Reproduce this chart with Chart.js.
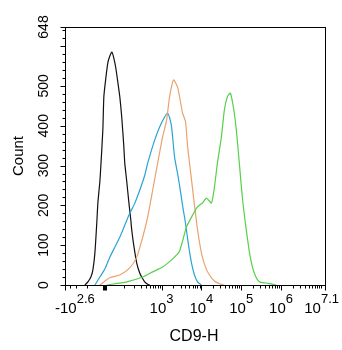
<!DOCTYPE html>
<html>
<head>
<meta charset="utf-8">
<script src="https://cdn.jsdelivr.net/npm/chart.js@4.4.1/dist/chart.umd.min.js"></script>
<style>
  html, body { margin: 0; padding: 0; background: #fff; }
  #wrap { width: 342px; height: 350px; }
</style>
</head>
<body>
<div id="wrap"><canvas id="histChart"></canvas></div>
<script>
// Histogram bins are display channels (0..261 across the logicle axis)
const controlX = [20, 23, 26, 28, 30, 32, 33, 35, 36, 38, 39, 41, 43, 45, 47, 49, 51, 53, 55, 57, 59, 60, 62, 64, 66, 67, 69, 72, 75, 77, 80, 83, 85];
const controlY = [0, 8, 20, 38, 80, 160, 206, 260, 300, 390, 473, 520, 558, 575, 585, 570, 545, 510, 473, 420, 350, 306, 260, 210, 165, 138, 100, 55, 30, 20, 8, 2, 0];

const blueX = [30, 35, 40, 45, 50, 55, 60, 65, 70, 75, 80, 83, 87, 90, 95, 100, 103, 105, 107, 110, 113, 115, 118, 121, 124, 127, 130, 133, 137];
const blueY = [0, 20, 40, 70, 95, 120, 150, 180, 205, 238, 275, 306, 340, 364, 397, 422, 432, 420, 397, 321, 280, 250, 200, 155, 100, 55, 25, 8, 0];

const orangeX = [35, 45, 55, 65, 72, 78, 83, 88, 93, 98, 102, 105, 109, 113, 115, 118, 121, 123, 127, 130, 133, 137, 141, 145, 150, 155, 160];
const orangeY = [0, 18, 25, 43, 70, 120, 171, 238, 306, 372, 414, 473, 515, 497, 473, 432, 410, 350, 264, 200, 140, 80, 45, 25, 10, 3, 0];

const greenX = [42, 62, 78, 88, 98, 107, 113, 115, 118, 122, 128, 133, 138, 142, 147, 150, 153, 157, 160, 163, 166, 169, 172, 175, 178, 182, 186, 190, 195, 202, 208, 212];
const greenY = [0, 8, 20, 33, 45, 63, 78, 85, 110, 146, 175, 196, 206, 218, 206, 246, 306, 372, 440, 473, 482, 447, 389, 306, 221, 138, 70, 30, 8, 5, 2, 0];

const yMax = 648;
const yLabels = [0, 100, 200, 300, 400, 500, 648];
// x axis labels: [value, base, exponent]
const xLabels = [[-Math.pow(10, 2.6), '-10', '2.6'], [1e3, '10', '3'], [1e4, '10', '4'], [1e5, '10', '5'], [1e6, '10', '6'], [Math.pow(10, 7.1), '10', '7.1']];

// logicle-like (asinh) transform from fluorescence value to display channel
const ASINH_W = 78;
const CH_PER_UNIT = 17.37;
function toChannel(v) {
  return CH_PER_UNIT * (Math.asinh(v / ASINH_W) - Math.asinh(-Math.pow(10, 2.6) / ASINH_W));
}

function xMinorValues() {
  const vals = [-300, -200, -100, 100, 200, 300, 400, 500, 600, 700, 800, 900];
  for (let e = 3; e <= 6; e++) {
    for (let m = 2; m <= 9; m++) vals.push(m * Math.pow(10, e));
  }
  vals.push(1e7);
  return vals;
}

function pts(xs, ys) {
  return xs.map((x, i) => ({ x: x, y: ys[i] }));
}

const FONT = '"Liberation Sans", Arial, sans-serif';

const axesPlugin = {
  id: 'flowAxes',
  afterDraw: function(chart) {
    const ctx = chart.ctx;
    const area = chart.chartArea;
    const xs = chart.scales.x;
    const ys = chart.scales.y;
    ctx.save();
    ctx.strokeStyle = '#000';
    ctx.fillStyle = '#000';
    ctx.lineWidth = 1;

    // frame
    ctx.strokeRect(Math.round(area.left) + 0.5, Math.round(area.top) + 0.5,
      Math.round(area.right - area.left), Math.round(area.bottom - area.top));

    // y ticks
    const bx = Math.round(area.left) + 0.5;
    ctx.beginPath();
    for (let v = 0; v <= 640; v += 20) {
      const y = Math.round(ys.getPixelForValue(v)) + 0.5;
      const len = v % 100 === 0 ? 5 : 3;
      ctx.moveTo(bx, y); ctx.lineTo(bx - len, y);
    }
    const yTop = Math.round(ys.getPixelForValue(yMax)) + 0.5;
    ctx.moveTo(bx, yTop); ctx.lineTo(bx - 5, yTop);
    ctx.stroke();

    // y labels, rotated
    ctx.font = '14px ' + FONT;
    ctx.textAlign = 'center';
    ctx.textBaseline = 'alphabetic';
    yLabels.forEach(function(v) {
      ctx.save();
      ctx.translate(48, ys.getPixelForValue(v));
      ctx.rotate(-Math.PI / 2);
      ctx.fillText(String(v), 0, 0);
      ctx.restore();
    });

    // x ticks
    const by = Math.round(area.bottom) + 0.5;
    ctx.beginPath();
    xMinorValues().forEach(function(v) {
      const x = Math.round(xs.getPixelForValue(toChannel(v))) + 0.5;
      ctx.moveTo(x, by); ctx.lineTo(x, by + 3);
    });
    xLabels.forEach(function(l) {
      const x = Math.round(Math.min(xs.getPixelForValue(toChannel(l[0])), area.right)) + 0.5;
      ctx.moveTo(x, by); ctx.lineTo(x, by + 5);
    });
    ctx.stroke();
    // zero marker
    const x0 = xs.getPixelForValue(toChannel(0));
    ctx.fillRect(Math.round(x0) - 2, by, 4, 5);

    // x labels with superscript exponents
    xLabels.forEach(function(l, i) {
      ctx.font = '15px ' + FONT;
      const wb = ctx.measureText(l[1]).width;
      ctx.font = '13px ' + FONT;
      const we = ctx.measureText(l[2]).width;
      const w = wb + we;
      const cx = xs.getPixelForValue(toChannel(l[0]));
      let left = cx - w / 2;
      if (i === 0) left = cx - 10;
      if (left + w > chart.width - 3) left = chart.width - 3 - w;
      ctx.textAlign = 'left';
      ctx.font = '15px ' + FONT;
      ctx.fillText(l[1], left, 313);
      ctx.font = '13px ' + FONT;
      ctx.fillText(l[2], left + wb, 303);
    });

    // axis titles
    ctx.font = '16px ' + FONT;
    ctx.textAlign = 'center';
    ctx.fillText('CD9-H', 194, 341);
    ctx.save();
    ctx.translate(23, 156);
    ctx.rotate(-Math.PI / 2);
    ctx.font = '15px ' + FONT;
    ctx.fillText('Count', 0, 0);
    ctx.restore();

    ctx.restore();
  }
};

function series(label, xs, ys, color) {
  return {
    label: label,
    data: pts(xs, ys),
    borderColor: color,
    backgroundColor: color,
    borderWidth: 1.2,
    pointRadius: 0,
    tension: 0.2,
    fill: false
  };
}

document.addEventListener('DOMContentLoaded', function() {
  var ctxHist = document.getElementById('histChart').getContext('2d');
  var histChart = new Chart(ctxHist, {
    type: 'line',
    data: {
      datasets: [
        series('Sample 3', greenX, greenY, '#55d14a'),
        series('Sample 2', orangeX, orangeY, '#e9a26f'),
        series('Sample 1', blueX, blueY, '#2ba3d5'),
        series('Control', controlX, controlY, '#111111')
      ]
    },
    options: {
      responsive: true,
      maintainAspectRatio: false,
      animation: false,
      layout: { padding: { left: 65, right: 17, top: 27, bottom: 65 } },
      plugins: { legend: { display: false }, tooltip: { enabled: false } },
      scales: {
        x: { type: 'linear', min: 0, max: 261, display: false },
        y: { type: 'linear', min: 0, max: yMax, display: false }
      }
    },
    plugins: [axesPlugin]
  });
});
</script>
</body>
</html>
